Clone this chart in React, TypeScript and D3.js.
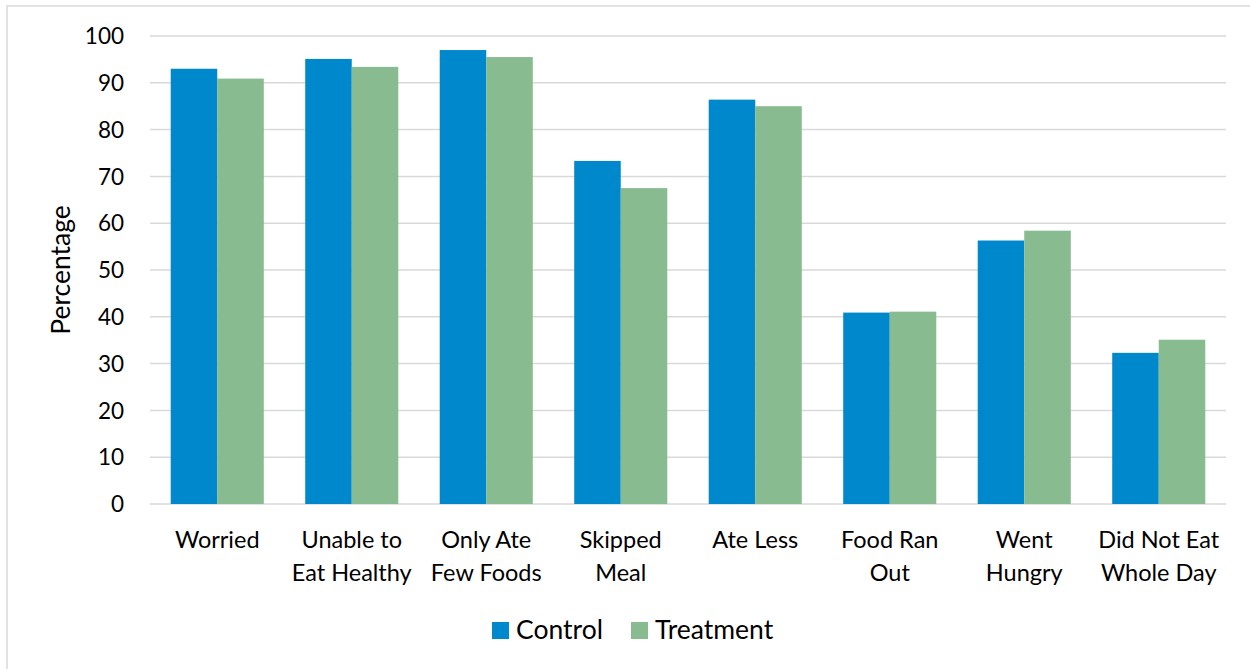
import React from "react";
import * as d3 from "d3";

const categories = [
  ["Worried"],
  ["Unable to", "Eat Healthy"],
  ["Only Ate", "Few Foods"],
  ["Skipped", "Meal"],
  ["Ate Less"],
  ["Food Ran", "Out"],
  ["Went", "Hungry"],
  ["Did Not Eat", "Whole Day"],
];
const controlValues = [93.0, 95.1, 97.0, 73.3, 86.4, 40.9, 56.3, 32.3];
const treatmentValues = [90.9, 93.4, 95.5, 67.5, 85.0, 41.1, 58.4, 35.1];
const seriesNames = ["Control", "Treatment"];
const seriesColors = ["#0088CC", "#88BB8F"];
const yTicks = [0, 10, 20, 30, 40, 50, 60, 70, 80, 90, 100];

const W = 1250;
const H = 669;
const FONT = "Lato, 'Open Sans', sans-serif";

export default function App() {
  const plotLeft = 150;
  const plotRight = 1226;
  const plotTop = 36;
  const plotBottom = 504;

  const x0 = d3
    .scaleBand<number>()
    .domain(d3.range(categories.length))
    .range([plotLeft, plotRight])
    .paddingInner(0.308)
    .paddingOuter(0.154);
  const x1 = d3
    .scaleBand<number>()
    .domain([0, 1])
    .range([0, x0.bandwidth()]);
  const y = d3.scaleLinear().domain([0, 100]).range([plotBottom, plotTop]);

  const series = [controlValues, treatmentValues];

  return (
    <svg
      width={W}
      height={H}
      style={{ position: "absolute", left: 0, top: 0, background: "#fff" }}
      fontFamily={FONT}
    >
      <rect x={0} y={0} width={W} height={H} fill="#fff" />
      {/* chart frame */}
      <rect x={7} y={6} width={W + 20} height={H + 20} fill="none" stroke="#D9D9D9" strokeWidth={1.5} />

      {/* gridlines */}
      {yTicks.map((t) => (
        <line
          key={t}
          x1={plotLeft}
          x2={plotRight}
          y1={y(t)}
          y2={y(t)}
          stroke="#D9D9D9"
          strokeWidth={1.5}
        />
      ))}

      {/* y tick labels */}
      {yTicks.map((t) => (
        <text
          key={t}
          x={124}
          y={y(t)}
          dy="0.36em"
          textAnchor="end"
          fontSize={22.5}
          fill="#000"
        >
          {t}
        </text>
      ))}

      {/* bars */}
      {categories.map((_, i) =>
        series.map((vals, s) => (
          <rect
            key={`${i}-${s}`}
            x={(x0(i) as number) + (x1(s) as number)}
            y={y(vals[i])}
            width={x1.bandwidth()}
            height={plotBottom - y(vals[i])}
            fill={seriesColors[s]}
          />
        ))
      )}

      {/* category labels */}
      {categories.map((lines, i) => (
        <text
          key={i}
          x={(x0(i) as number) + x0.bandwidth() / 2}
          y={548}
          textAnchor="middle"
          fontSize={23.5}
          fill="#000"
        >
          {lines.map((ln, k) => (
            <tspan key={k} x={(x0(i) as number) + x0.bandwidth() / 2} dy={k === 0 ? 0 : 33}>
              {ln}
            </tspan>
          ))}
        </text>
      ))}

      {/* y axis title */}
      <text
        transform={`translate(70,${(plotTop + plotBottom) / 2}) rotate(-90)`}
        textAnchor="middle"
        fontSize={26.5}
        fill="#000"
      >
        Percentage
      </text>

      {/* legend */}
      {[
        { x: 492, label: seriesNames[0], color: seriesColors[0] },
        { x: 631, label: seriesNames[1], color: seriesColors[1] },
      ].map((item) => (
        <g key={item.label}>
          <rect x={item.x} y={622} width={17} height={17} fill={item.color} />
          <text x={item.x + 24} y={639} fontSize={26.5} fill="#000">
            {item.label}
          </text>
        </g>
      ))}
    </svg>
  );
}
